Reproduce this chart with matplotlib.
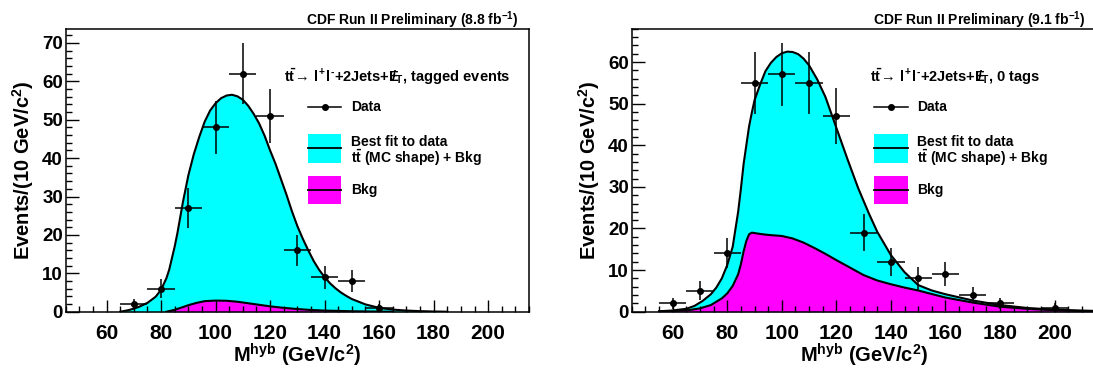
import numpy as np
import matplotlib.pyplot as plt
from matplotlib.patches import Rectangle
from matplotlib.ticker import MultipleLocator

plt.rcParams['font.family'] = ['Liberation Sans', 'DejaVu Sans']
plt.rcParams['font.weight'] = 'bold'
plt.rcParams['mathtext.fontset'] = 'custom'
plt.rcParams['mathtext.rm'] = 'Liberation Sans:bold'
plt.rcParams['mathtext.it'] = 'Liberation Sans:bold'
plt.rcParams['mathtext.bf'] = 'Liberation Sans:bold'
plt.rcParams['mathtext.sf'] = 'Liberation Sans:bold'

# ---- tagged events (8.8 fb-1) ----
tag_x = [70, 80, 90, 100, 110, 120, 130, 140, 150, 160]
tag_n = [2, 6, 27, 48, 62, 51, 16, 9, 8, 1]
tag_err = [1.4, 2.4, 5.2, 6.8, 8.0, 7.1, 4.0, 3.0, 2.8, 1.0]

tag_fit_x = [65, 68, 70, 72, 75, 78, 80, 82, 83, 85, 86, 88, 90, 92, 94, 96, 98, 100,
             102, 104, 106, 108, 110, 112, 114, 116, 118, 120, 122, 124, 126, 128, 130,
             132, 134, 136, 138, 140, 142, 144, 146, 148, 150, 155, 160, 165, 170, 175,
             180, 185]
tag_fit_y = [0.0, 0.4, 0.8, 1.3, 2.3, 3.9, 5.7, 8.8, 11.0, 17.0, 20.5, 28.5, 35.5, 41.0,
             45.5, 49.5, 52.4, 54.3, 55.6, 56.3, 56.5, 56.1, 55.2, 53.6, 51.5, 49.0, 45.8,
             42.0, 38.5, 34.5, 30.5, 26.2, 22.3, 19.0, 16.0, 13.2, 10.9, 9.0, 7.4, 6.1,
             5.0, 4.1, 3.3, 1.9, 1.0, 0.55, 0.3, 0.15, 0.06, 0.0]

tag_bkg_x = [82, 85, 88, 90, 93, 96, 100, 104, 108, 112, 116, 120, 125, 130, 135, 140,
             150, 160, 165]
tag_bkg_y = [0.0, 0.5, 1.2, 1.7, 2.3, 2.75, 2.9, 2.85, 2.6, 2.2, 1.8, 1.4, 1.0, 0.7,
             0.45, 0.3, 0.12, 0.03, 0.0]

# ---- 0 tags (9.1 fb-1) ----
zero_x = [60, 70, 80, 90, 100, 110, 120, 130, 140, 150, 160, 170, 180, 200]
zero_n = [2, 5, 14, 55, 57, 55, 47, 19, 12, 8, 9, 4, 2, 1]
zero_err = [1.4, 2.3, 3.6, 7.4, 7.5, 7.4, 6.8, 4.4, 3.3, 2.7, 2.9, 1.9, 1.4, 1.0]

zero_fit_x = [55, 60, 65, 68, 71, 74, 76, 78, 80, 82, 84, 85, 86, 87, 88, 89, 90, 92, 94,
              96, 98, 100, 102, 104, 106, 108, 110, 113, 116, 120, 124, 128, 132, 135,
              140, 145, 150, 155, 160, 170, 180, 190, 200, 210, 215]
zero_fit_y = [0.1, 0.3, 0.7, 1.4, 2.6, 4.2, 5.8, 8.0, 11.2, 15.6, 24.0, 29.5, 35.5, 40.0,
              44.5, 47.8, 50.8, 54.5, 57.8, 59.8, 61.2, 62.1, 62.5, 62.4, 61.9, 60.8, 59.2,
              55.8, 51.6, 44.2, 36.8, 29.7, 23.5, 19.2, 13.6, 9.5, 6.4, 5.1, 4.2, 2.7, 1.6,
              0.9, 0.5, 0.25, 0.2]

zero_bkg_x = [55, 60, 66, 70, 74, 78, 80, 82, 84, 85, 86, 87, 88, 89, 90, 93, 96, 100,
              104, 108, 112, 116, 120, 125, 130, 135, 140, 145, 150, 160, 170, 180, 190,
              200, 210, 215]
zero_bkg_y = [0.05, 0.15, 0.4, 0.8, 1.6, 3.2, 4.4, 6.2, 9.0, 11.4, 14.5, 17.0, 18.6, 19.0,
              18.9, 18.6, 18.4, 18.2, 17.6, 16.6, 15.3, 13.9, 12.4, 10.6, 8.8, 7.5, 6.6,
              5.8, 5.1, 3.4, 2.2, 1.2, 0.7, 0.35, 0.2, 0.15]

bin_half = 5

panels = [
    dict(x=tag_x, n=tag_n, err=tag_err, fx=tag_fit_x, fy=tag_fit_y, bx=tag_bkg_x, by=tag_bkg_y,
         ymax=73.7, lumi='8.8', sel='tagged events', sel_x=0.471,
         rect=[0.0601, 0.1643, 0.4239, 0.7587]),
    dict(x=zero_x, n=zero_n, err=zero_err, fx=zero_fit_x, fy=zero_fit_y, bx=zero_bkg_x, by=zero_bkg_y,
         ymax=68.0, lumi='9.1', sel='0 tags', sel_x=0.513,
         rect=[0.5780, 0.1643, 0.4243, 0.7587]),
]

fig = plt.figure(figsize=(10.93, 3.73), dpi=100)

for p in panels:
    ax = fig.add_axes(p['rect'])
    ax.fill_between(p['fx'], p['fy'], color='#00ffff', lw=0)
    ax.plot(p['fx'], p['fy'], color='k', lw=1.5)
    ax.fill_between(p['bx'], p['by'], color='#ff00ff', lw=0)
    ax.plot(p['bx'], p['by'], color='k', lw=1.5)
    ax.errorbar(p['x'], p['n'], xerr=bin_half, yerr=p['err'], fmt='o', color='k',
                ms=4, elinewidth=1.1, capsize=0)

    ax.set_xlim(45, 215)
    ax.set_ylim(0, p['ymax'])
    ax.xaxis.set_major_locator(MultipleLocator(20))
    ax.xaxis.set_minor_locator(MultipleLocator(5))
    ax.yaxis.set_major_locator(MultipleLocator(10))
    ax.yaxis.set_minor_locator(MultipleLocator(2))
    ax.tick_params(which='both', direction='in', width=1)
    ax.tick_params(which='major', length=9)
    ax.tick_params(which='minor', length=4.5)
    ax.tick_params(axis='x', which='major', labelsize=15, pad=9)
    ax.tick_params(axis='y', which='major', labelsize=13.5, pad=2)
    for lab in ax.get_xticklabels() + ax.get_yticklabels():
        lab.set_fontweight('bold')
    for s in ax.spines.values():
        s.set_linewidth(1.1)

    ax.set_xlabel(r'M$^{hyb}$ (GeV/c$^{2}$)', fontsize=14.5, fontweight='bold')
    ax.set_ylabel(r'Events/(10 GeV/c$^{2}$)', fontsize=14.5, fontweight='bold')
    ax.xaxis.set_label_coords(0.5, -0.105)
    ax.yaxis.set_label_coords(-0.064, 0.5)

    ax.text(0.978, 1.031, r'CDF Run II Preliminary (%s fb$^{-1}$)' % p['lumi'],
            transform=ax.transAxes, ha='right', va='center', fontsize=10, fontweight='bold')
    ax.text(p['sel_x'], 0.830,
            r'$t\bar{t}\!\rightarrow\, l^{+}l^{‐}$+2Jets+$E\!\!\!/_{T}$, ' + p['sel'],
            transform=ax.transAxes, ha='left', va='center', fontsize=10.5, fontweight='bold')

    # legend
    hx0, hx1, tx = 0.523, 0.595, 0.616
    ax.plot([hx0, hx1], [0.722, 0.722], color='k', lw=1.1, transform=ax.transAxes)
    ax.plot([(hx0 + hx1) / 2], [0.722], 'o', color='k', ms=4, transform=ax.transAxes)
    ax.text(tx, 0.722, 'Data', transform=ax.transAxes, va='center', fontsize=10, fontweight='bold')

    ax.add_patch(Rectangle((hx0, 0.527), hx1 - hx0, 0.101, transform=ax.transAxes,
                           facecolor='#00ffff', edgecolor='none'))
    ax.plot([hx0, hx1], [0.577, 0.577], color='k', lw=1.3, transform=ax.transAxes)
    ax.text(tx, 0.601, 'Best fit to data', transform=ax.transAxes, va='center',
            fontsize=10, fontweight='bold')
    ax.text(tx, 0.542, r'$t\bar{t}$ (MC shape) + Bkg', transform=ax.transAxes, va='center',
            fontsize=10, fontweight='bold')

    ax.add_patch(Rectangle((hx0, 0.381), hx1 - hx0, 0.099, transform=ax.transAxes,
                           facecolor='#ff00ff', edgecolor='none'))
    ax.plot([hx0, hx1], [0.430, 0.430], color='k', lw=1.3, transform=ax.transAxes)
    ax.text(tx, 0.430, 'Bkg', transform=ax.transAxes, va='center', fontsize=10, fontweight='bold')

fig.savefig('out.png', dpi=100)
